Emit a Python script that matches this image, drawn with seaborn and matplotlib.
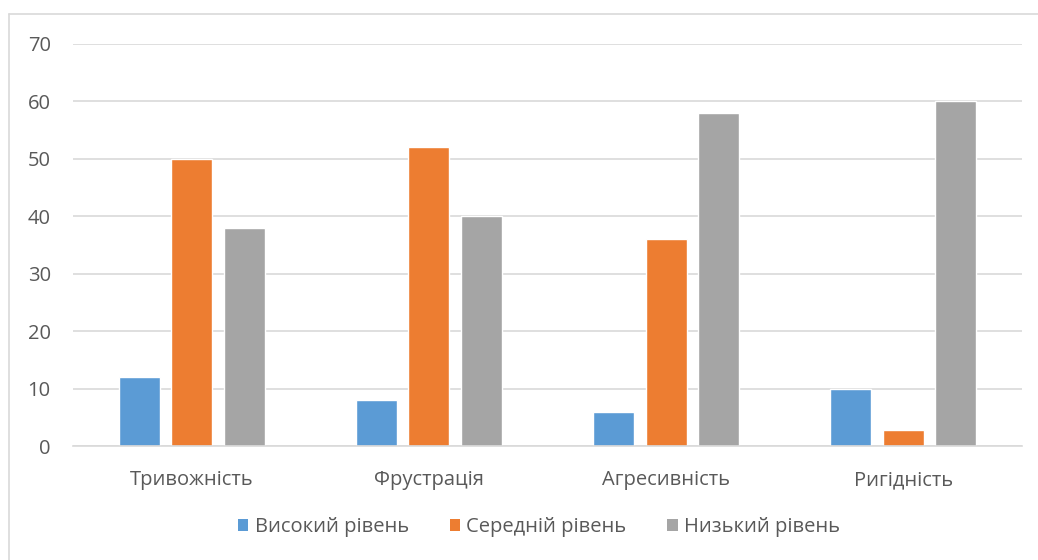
import matplotlib
matplotlib.use("Agg")
import matplotlib.pyplot as plt
import seaborn as sns
import pandas as pd
from matplotlib.lines import Line2D
from matplotlib.patches import Patch

categories = ["Тривожність", "Фрустрація", "Агресивність", "Ригідність"]
series_names = ["Високий рівень", "Середній рівень", "Низький рівень"]
high = [12, 8, 6, 10]
mid = [50, 52, 36, 2.8]
low = [38, 40, 58, 60]
colors = ["#5B9BD5", "#ED7D31", "#A5A5A5"]

rows = []
for name, vals in zip(series_names, [high, mid, low]):
    for c, v in zip(categories, vals):
        rows.append({"cat": c, "series": name, "value": v})
df = pd.DataFrame(rows)

sns.set_style("white")
plt.rcParams["font.family"] = ["Open Sans", "DejaVu Sans"]

fig = plt.figure(figsize=(10.38, 5.6), dpi=100)
ax = fig.add_axes([73/1038, 1 - 446.3/560, (1022-73)/1038, (446.3-43.5)/560])

sns.barplot(data=df, x="cat", y="value", hue="series", order=categories,
            hue_order=series_names, palette=colors, width=0.664, gap=0.22,
            saturation=1, ax=ax, legend=False, errorbar=None)

ax.set_ylim(0, 70)
ax.set_yticks(range(0, 71, 10))
ax.set_xlim(-0.5, 3.5)
ax.set_xlabel("")
ax.set_ylabel("")
ax.yaxis.grid(True, color="#D9D9D9", linewidth=1.2)
ax.set_axisbelow(True)
for s in ["top", "right", "left"]:
    ax.spines[s].set_visible(False)
ax.spines["bottom"].set_color("#D9D9D9")
ax.spines["bottom"].set_linewidth(1.2)
ax.tick_params(axis="y", length=0, labelsize=14.5, colors="#595959", pad=16)
ax.tick_params(axis="x", length=0, labelsize=14.5, colors="#595959", pad=17)

handles = [Patch(facecolor=c, edgecolor="none") for c in colors]
fig.legend(handles, series_names, loc="center", bbox_to_anchor=(539/1038, 1 - 527/560),
           ncol=3, frameon=False, fontsize=14.5, labelcolor="#595959",
           handlelength=0.5, handleheight=0.5, handletextpad=0.3, columnspacing=2.05)

# outer chart border (left and top visible)
fig.add_artist(Line2D([9/1038, 9/1038], [0, 1 - 14/560], transform=fig.transFigure,
                      color="#D9D9D9", linewidth=1.2))
fig.add_artist(Line2D([9/1038, 1], [1 - 14/560, 1 - 14/560], transform=fig.transFigure,
                      color="#D9D9D9", linewidth=1.2))

fig.savefig("out.png", dpi=100)
